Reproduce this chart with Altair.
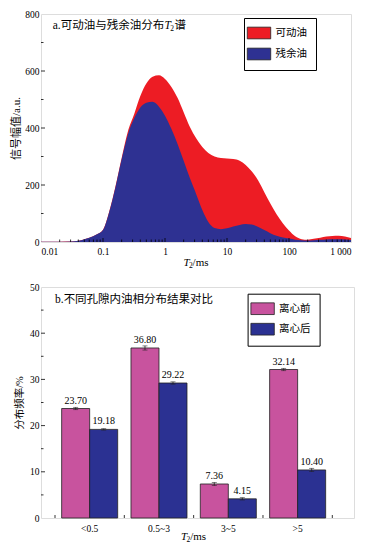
import altair as alt
import pandas as pd

SERIF = "Liberation Serif, Noto Sans CJK SC"
CJK = "Liberation Serif, Noto Sans CJK SC"

# ---------------- Panel a data ----------------
t2 = [0.01, 0.02, 0.03, 0.04, 0.05, 0.06, 0.08,
      0.1, 0.126, 0.16, 0.2, 0.25, 0.32, 0.4, 0.5, 0.63, 0.8,
      1, 1.26, 1.6, 2, 2.5, 3.2, 4, 5, 6.3, 8,
      10, 12.6, 16, 20, 25, 32, 40, 50, 63, 80,
      100, 126, 160, 200, 250, 320, 400, 500, 630, 800,
      1000]
movable = [1, 1, 1.5, 4, 10, 15, 27,
           43, 107, 198, 295, 385, 450, 512, 556, 580, 585,
           572, 545, 505, 455, 405, 363, 333, 312, 300, 295,
           293, 291, 285, 270, 248, 215, 175, 135, 97, 65,
           40, 20, 10, 8, 11, 15, 19, 21, 22, 19,
           14]
residual = [0.5, 0.5, 1.5, 4, 10, 15, 27,
            42, 105, 195, 290, 375, 435, 472, 489, 492, 475,
            443, 398, 343, 285, 226, 167, 112, 70, 49, 45,
            48, 54, 60, 63, 61, 53, 42, 31, 22, 16,
            12, 8, 6, 5, 6, 8, 9, 10, 10, 9,
            7]
series_a = ["可动油", "残余油"]
colors_a = ["#ED1C24", "#2E3192"]
xticks_a = [0.01, 0.1, 1, 10, 100, 1000]
xminor_a = [m * d for d in [0.01, 0.1, 1, 10, 100] for m in range(2, 10)]
yticks_a = [0, 200, 400, 600, 800]
yminor_a = [100, 300, 500, 700]

# ---------------- Panel b data ----------------
cats = ["<0.5", "0.5~3", "3~5", ">5"]
series_b = ["离心前", "离心后"]
before = [23.70, 36.80, 7.36, 32.14]
after = [19.18, 29.22, 4.15, 10.40]
err_before = [0.25, 0.45, 0.35, 0.25]
err_after = [0.15, 0.25, 0.25, 0.35]
colors_b = ["#C8539E", "#2B3192"]
yticks_b = [0, 10, 20, 30, 40, 50]
yminor_b = [5, 15, 25, 35, 45]

W1, H1 = 310, 228
W2, H2 = 313, 231


def note(text, x, y, size, italic=False, font=SERIF, baseline="middle", align="left"):
    return alt.Chart(pd.DataFrame({"k": [0]})).mark_text(
        text=text, font=font, fontSize=size,
        fontStyle="italic" if italic else "normal",
        align=align, baseline=baseline, color="black"
    ).encode(x=alt.value(x), y=alt.value(y))


# ================= Panel a =================
df_a = pd.DataFrame({
    "T2": t2 * 2,
    "amp": movable + residual,
    "series": [series_a[0]] * len(t2) + [series_a[1]] * len(t2),
})

xa_axis = alt.Axis(values=xticks_a, title=None, ticks=False, domain=False, grid=False,
                   labelFont=SERIF, labelFontSize=9.5, labelPadding=4, labelColor="black",
                   labelExpr="datum.value < 0.05 ? '0.01' : datum.value < 0.5 ? '0.1' : "
                             "datum.value < 5 ? '1' : datum.value < 50 ? '10' : "
                             "datum.value < 500 ? '100' : '1 000'")
xa_scale = alt.Scale(type="log", domain=[0.01, 1000], nice=False)
ya_axis = alt.Axis(values=yticks_a, title="信号幅值/a.u.", ticks=False, domain=False, grid=False,
                   labelFont=SERIF, labelFontSize=9.5, labelPadding=2, labelColor="black",
                   titleFont=CJK, titleFontSize=11, titleFontWeight="normal",
                   titleColor="black", titlePadding=3)
ya_scale = alt.Scale(domain=[0, 800], nice=False)

color_a = alt.Color("series:N", scale=alt.Scale(domain=series_a, range=colors_a),
                    legend=alt.Legend(title=None, orient="none", legendX=203, legendY=4,
                                      strokeColor="black", fillColor="white", padding=8.5,
                                      symbolType="M-2,-1H2V1H-2Z", symbolSize=137,
                                      symbolStrokeColor="#222", symbolStrokeWidth=0.8,
                                      symbolOpacity=1,
                                      labelFont=CJK, labelFontSize=10.5, labelOffset=10,
                                      rowPadding=6, labelColor="black"))

base_a = alt.Chart(df_a)
area_red = base_a.transform_filter(alt.datum.series == series_a[0]).mark_area(
    interpolate="monotone", opacity=1).encode(
    x=alt.X("T2:Q", scale=xa_scale, axis=xa_axis),
    y=alt.Y("amp:Q", scale=ya_scale, axis=ya_axis),
    color=color_a)
area_blue = base_a.transform_filter(alt.datum.series == series_a[1]).mark_area(
    interpolate="monotone", opacity=1).encode(
    x=alt.X("T2:Q", scale=xa_scale, axis=xa_axis),
    y=alt.Y("amp:Q", scale=ya_scale, axis=ya_axis),
    color=color_a)

ytick_a_major = alt.Chart(pd.DataFrame({"amp": yticks_a[1:-1]})).mark_rule(
    color="black", strokeWidth=0.8).encode(
    y=alt.Y("amp:Q", scale=ya_scale, axis=ya_axis), x=alt.value(0), x2=alt.value(4))
ytick_a_minor = alt.Chart(pd.DataFrame({"amp": yminor_a})).mark_rule(
    color="black", strokeWidth=0.8).encode(
    y=alt.Y("amp:Q", scale=ya_scale, axis=ya_axis), x=alt.value(0), x2=alt.value(2.5))
xtick_a_major = alt.Chart(pd.DataFrame({"T2": xticks_a[1:-1]})).mark_rule(
    color="black", strokeWidth=0.8).encode(
    x=alt.X("T2:Q", scale=xa_scale, axis=xa_axis), y=alt.value(H1), y2=alt.value(H1 - 4))
xtick_a_minor = alt.Chart(pd.DataFrame({"T2": xminor_a})).mark_rule(
    color="black", strokeWidth=0.8).encode(
    x=alt.X("T2:Q", scale=xa_scale, axis=xa_axis), y=alt.value(H1), y2=alt.value(H1 - 2.5))

title_a = [
    note("a.可动油与残余油分布", 11.7, 11.7, 11.5),
    note("T", 123.4, 11.7, 11.5, italic=True),
    note("2", 129.2, 15.2, 7.5),
    note("谱", 133.5, 11.7, 11.5),
]
xtitle_a = [
    note("T", 142.4, H1 + 23.7, 11, italic=True, baseline="alphabetic"),
    note("2", 148.0, H1 + 26.0, 7.5, baseline="alphabetic"),
    note("/ms", 151.6, H1 + 23.7, 11, baseline="alphabetic"),
]

panel_a = alt.layer(area_red, area_blue, ytick_a_major, ytick_a_minor,
                    xtick_a_major, xtick_a_minor, *title_a, *xtitle_a).properties(
    width=W1, height=H1)

# ================= Panel b =================
rows = []
for i, c in enumerate(cats):
    for s, vals, errs in [(series_b[0], before, err_before), (series_b[1], after, err_after)]:
        rows.append({"cat": c, "series": s, "val": vals[i],
                     "lo": vals[i] - errs[i], "hi": vals[i] + errs[i],
                     "label": f"{vals[i]:.2f}"})
df_b = pd.DataFrame(rows)

xb_scale = alt.Scale(domain=cats, range=[14, 291.3], paddingInner=0, paddingOuter=0)
xb_axis = alt.Axis(title=None, ticks=False, domain=False, grid=False, labelAngle=0,
                   labelFont=SERIF, labelFontSize=9.5, labelPadding=5, labelColor="black")
xo_scale = alt.Scale(domain=series_b, paddingInner=0, paddingOuter=0.2375)
yb_scale = alt.Scale(domain=[0, 50], nice=False)
yb_axis = alt.Axis(values=yticks_b, title="分布频率/%", ticks=False, domain=False, grid=False,
                   labelFont=SERIF, labelFontSize=9.5, labelPadding=2, labelColor="black",
                   titleFont=CJK, titleFontSize=10.5, titleFontWeight="normal",
                   titleColor="black", titlePadding=5)

X = lambda: alt.X("cat:N", scale=xb_scale, axis=xb_axis, sort=cats)
XO = lambda: alt.XOffset("series:N", scale=xo_scale, sort=series_b)

color_b = alt.Color("series:N", scale=alt.Scale(domain=series_b, range=colors_b),
                    legend=alt.Legend(title=None, orient="none", legendX=206.6, legendY=6.7,
                                      strokeColor="black", fillColor="white", padding=8.5,
                                      symbolType="M-2,-1H2V1H-2Z", symbolSize=137,
                                      symbolStrokeColor="#222", symbolStrokeWidth=0.8,
                                      symbolOpacity=1,
                                      labelFont=CJK, labelFontSize=10.5, labelOffset=10,
                                      rowPadding=5.5, labelColor="black"))

base_b = alt.Chart(df_b)
bars = base_b.mark_bar(stroke="#222", strokeWidth=0.8, opacity=1).encode(
    x=X(), xOffset=XO(),
    y=alt.Y("val:Q", scale=yb_scale, axis=yb_axis),
    color=color_b)
err_rule = base_b.mark_rule(color="#222", strokeWidth=0.8).encode(
    x=X(), xOffset=XO(),
    y=alt.Y("lo:Q", scale=yb_scale, axis=yb_axis), y2="hi:Q")
cap_lo = base_b.mark_tick(color="#222", thickness=0.8, size=5).encode(
    x=X(), xOffset=XO(), y=alt.Y("lo:Q", scale=yb_scale, axis=yb_axis))
cap_hi = base_b.mark_tick(color="#222", thickness=0.8, size=5).encode(
    x=X(), xOffset=XO(), y=alt.Y("hi:Q", scale=yb_scale, axis=yb_axis))
labels = base_b.mark_text(font=SERIF, fontSize=10, baseline="alphabetic", dy=-5,
                          color="black").encode(
    x=X(), xOffset=XO(), y=alt.Y("val:Q", scale=yb_scale, axis=yb_axis), text="label:N")

ytick_b_major = alt.Chart(pd.DataFrame({"val": yticks_b[1:-1]})).mark_rule(
    color="black", strokeWidth=0.8).encode(
    y=alt.Y("val:Q", scale=yb_scale, axis=yb_axis), x=alt.value(0), x2=alt.value(4))
ytick_b_minor = alt.Chart(pd.DataFrame({"val": yminor_b})).mark_rule(
    color="black", strokeWidth=0.8).encode(
    y=alt.Y("val:Q", scale=yb_scale, axis=yb_axis), x=alt.value(0), x2=alt.value(2.5))
xtick_b_start = alt.Chart(pd.DataFrame({"cat": cats})).mark_rule(
    color="black", strokeWidth=0.8).encode(
    x=alt.X("cat:N", scale=xb_scale, axis=xb_axis, sort=cats, bandPosition=0),
    y=alt.value(H2), y2=alt.value(H2 - 3))
xtick_b_end = alt.Chart(pd.DataFrame({"cat": cats[-1:]})).mark_rule(
    color="black", strokeWidth=0.8).encode(
    x=alt.X("cat:N", scale=xb_scale, axis=xb_axis, sort=cats, bandPosition=1),
    y=alt.value(H2), y2=alt.value(H2 - 3))

title_b = [note("b.不同孔隙内油相分布结果对比", 14, 13.4, 11.5)]
xtitle_b = [
    note("T", 140.0, H2 + 21.7, 11, italic=True, baseline="alphabetic"),
    note("2", 145.6, H2 + 24.0, 7.5, baseline="alphabetic"),
    note("/ms", 149.2, H2 + 21.7, 11, baseline="alphabetic"),
]

panel_b = alt.layer(bars, err_rule, cap_lo, cap_hi, labels,
                    ytick_b_major, ytick_b_minor, xtick_b_start, xtick_b_end,
                    *title_b, *xtitle_b).properties(width=W2, height=H2)

chart = alt.vconcat(panel_a, panel_b, spacing=11).resolve_scale(
    color="independent", x="independent", y="independent").properties(
    padding={"left": 2, "top": 0, "right": 0, "bottom": 0}
).configure_view(stroke="black", strokeWidth=1).configure(background="white")

chart.save("out.html", embed_options={"renderer": "svg", "actions": False})
